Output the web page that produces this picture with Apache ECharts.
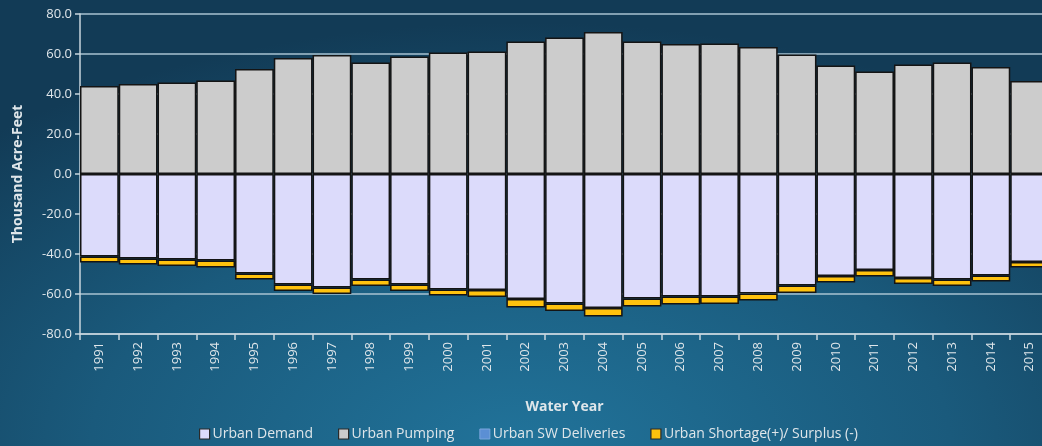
<!DOCTYPE html>
<html>
<head>
<meta charset="utf-8">
<script src="https://cdn.jsdelivr.net/npm/echarts@6/dist/echarts.min.js"></script>
<style>
  html, body { margin: 0; padding: 0; }
  body {
    width: 1042px; height: 446px; overflow: hidden;
    background: radial-gradient(ellipse 75% 95% at 50% 100%, #21739a 0%, #1a5a7c 55%, #123b56 100%);
  }
  #chart { width: 1042px; height: 446px; }
</style>
</head>
<body>
<div id="chart"></div>
<script>
// Water years on the category axis
const years = ['1991','1992','1993','1994','1995','1996','1997','1998','1999','2000',
  '2001','2002','2003','2004','2005','2006','2007','2008','2009','2010',
  '2011','2012','2013','2014','2015'];

// Thousand acre-feet
const urbanPumping = [44.0, 45.0, 45.8, 46.7, 52.5, 58.0, 59.5, 55.8, 58.7, 60.7,
  61.3, 66.3, 68.2, 71.0, 66.3, 65.0, 65.2, 63.5, 59.8, 54.2,
  51.2, 54.8, 55.8, 53.5, 46.5];
const urbanDemand = [-41.2, -42.2, -42.8, -43.3, -49.8, -55.2, -56.8, -52.7, -55.2, -57.7,
  -58.0, -62.5, -64.8, -67.0, -62.2, -61.2, -61.3, -59.8, -55.8, -51.0,
  -48.0, -52.0, -52.8, -50.7, -44.0];
const urbanSWDeliveries = years.map(() => null);
const urbanShortage = [-3.0, -3.0, -3.2, -3.5, -3.0, -3.3, -3.2, -3.3, -3.3, -3.1,
  -3.5, -4.2, -3.7, -4.2, -4.1, -4.1, -3.7, -3.5, -3.7, -3.3,
  -3.3, -3.0, -3.2, -3.1, -2.7];

const yTicks = { min: -80, max: 80, step: 20 };

const FONT = '"Open Sans", "Liberation Sans", sans-serif';
const TEXT = '#dfe6ea';

const barBase = {
  type: 'bar',
  stack: 'water',
  barCategoryGap: '0%',
  itemStyle: { borderColor: '#141414', borderWidth: 1.5 },
  emphasis: { disabled: true }
};

const darkEdge = { borderColor: '#2a2a2a', borderWidth: 1.2 };

const chart = echarts.init(document.getElementById('chart'), null, { renderer: 'canvas' });
chart.setOption({
  backgroundColor: 'transparent',
  animation: false,
  textStyle: { fontFamily: FONT },
  // plot area runs a little past the right edge of the page
  grid: { left: 80, top: 14, width: 969, height: 320, containLabel: false, outerBoundsMode: 'none' },
  legend: {
    bottom: 0,
    left: 194,
    itemWidth: 10,
    itemHeight: 10,
    itemGap: 25,
    icon: 'rect',
    textStyle: { color: TEXT, fontSize: 14, fontFamily: FONT, padding: [0, 0, 0, -2] },
    data: [
      { name: 'Urban Demand', itemStyle: darkEdge },
      { name: 'Urban Pumping', itemStyle: darkEdge },
      { name: 'Urban SW Deliveries', itemStyle: { borderColor: '#7aa6dc', borderWidth: 1 } },
      { name: 'Urban Shortage(+)/ Surplus (-)', itemStyle: darkEdge }
    ]
  },
  xAxis: {
    type: 'category',
    data: years,
    name: 'Water Year',
    nameLocation: 'middle',
    nameGap: 66,
    nameTextStyle: { color: TEXT, fontSize: 14, fontWeight: 'bold', fontFamily: FONT },
    position: 'bottom',
    axisLine: { onZero: false, lineStyle: { color: '#c9d6de', width: 1.5 } },
    axisTick: { show: true, alignWithLabel: false, length: 6, lineStyle: { color: '#c9d6de', width: 1.5 } },
    axisLabel: { color: TEXT, fontSize: 13, rotate: 90, margin: 8, fontFamily: FONT }
  },
  yAxis: {
    type: 'value',
    min: yTicks.min,
    max: yTicks.max,
    interval: yTicks.step,
    name: 'Thousand Acre-Feet',
    nameLocation: 'middle',
    nameGap: 55,
    nameTextStyle: { color: TEXT, fontSize: 14, fontWeight: 'bold', fontFamily: FONT },
    axisLine: { show: true, lineStyle: { color: '#c9d6de', width: 1.5 } },
    axisTick: { show: true, length: 5, lineStyle: { color: '#c9d6de', width: 1.5 } },
    axisLabel: { color: TEXT, fontSize: 13, margin: 8, fontFamily: FONT,
      formatter: v => v.toFixed(1) },
    splitLine: { show: true, lineStyle: { color: '#a8c3d2', width: 1.5 } }
  },
  series: [
    Object.assign({}, barBase, { name: 'Urban Demand', data: urbanDemand,
      itemStyle: Object.assign({}, barBase.itemStyle, { color: '#dcdbfb' }) }),
    Object.assign({}, barBase, { name: 'Urban Pumping', data: urbanPumping,
      itemStyle: Object.assign({}, barBase.itemStyle, { color: '#cccccc' }) }),
    Object.assign({}, barBase, { name: 'Urban SW Deliveries', data: urbanSWDeliveries,
      itemStyle: Object.assign({}, barBase.itemStyle, { color: '#5b8fd4', borderColor: '#5b8fd4' }) }),
    Object.assign({}, barBase, { name: 'Urban Shortage(+)/ Surplus (-)', data: urbanShortage,
      itemStyle: Object.assign({}, barBase.itemStyle, { color: '#ffc20e' }) })
  ]
});
</script>
</body>
</html>
